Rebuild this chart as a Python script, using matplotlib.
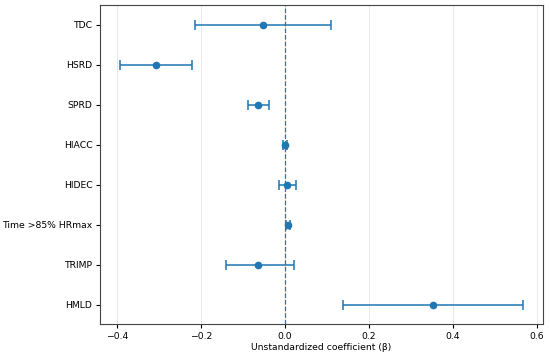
import matplotlib.pyplot as plt

# Coefficients and 95% CI bounds
variables = ["TDC", "HSRD", "SPRD", "HIACC", "HIDEC", "Time >85% HRmax", "TRIMP", "HMLD"]
beta = [-0.052, -0.308, -0.063, 0.000, 0.006, 0.007, -0.063, 0.352]
ci_low = [-0.213, -0.393, -0.087, -0.005, -0.013, 0.002, -0.141, 0.138]
ci_high = [0.109, -0.222, -0.038, 0.005, 0.026, 0.012, 0.021, 0.567]

plt.rcParams['font.size'] = 6.7

fig, ax = plt.subplots(figsize=(5.5, 3.56), dpi=100)

ypos = list(range(len(variables)))[::-1]
err_lo = [b - l for b, l in zip(beta, ci_low)]
err_hi = [h - b for b, h in zip(beta, ci_high)]

ax.errorbar(beta, ypos, xerr=[err_lo, err_hi], fmt='o', color='#1f77b4',
            markersize=4.5, capsize=3.5, elinewidth=1.1, capthick=1.1, zorder=3)
ax.axvline(0, color='#1f77b4', linestyle='--', linewidth=0.9, zorder=2)

ax.set_yticks(ypos)
ax.set_yticklabels(variables)
ax.set_ylim(-0.48, 7.5)
ax.set_xlim(-0.44, 0.614)
ax.set_xticks([-0.4, -0.2, 0.0, 0.2, 0.4, 0.6])
ax.set_xlabel("Unstandardized coefficient (β)", labelpad=2)
ax.tick_params(length=3, pad=2.5)
ax.grid(axis='x', color='#dddddd', linewidth=0.6, alpha=0.8)
ax.set_axisbelow(True)
for s in ax.spines.values():
    s.set_color('#444444')

fig.subplots_adjust(left=0.182, right=0.987, top=0.986, bottom=0.09)
fig.savefig("out.png", dpi=100)
